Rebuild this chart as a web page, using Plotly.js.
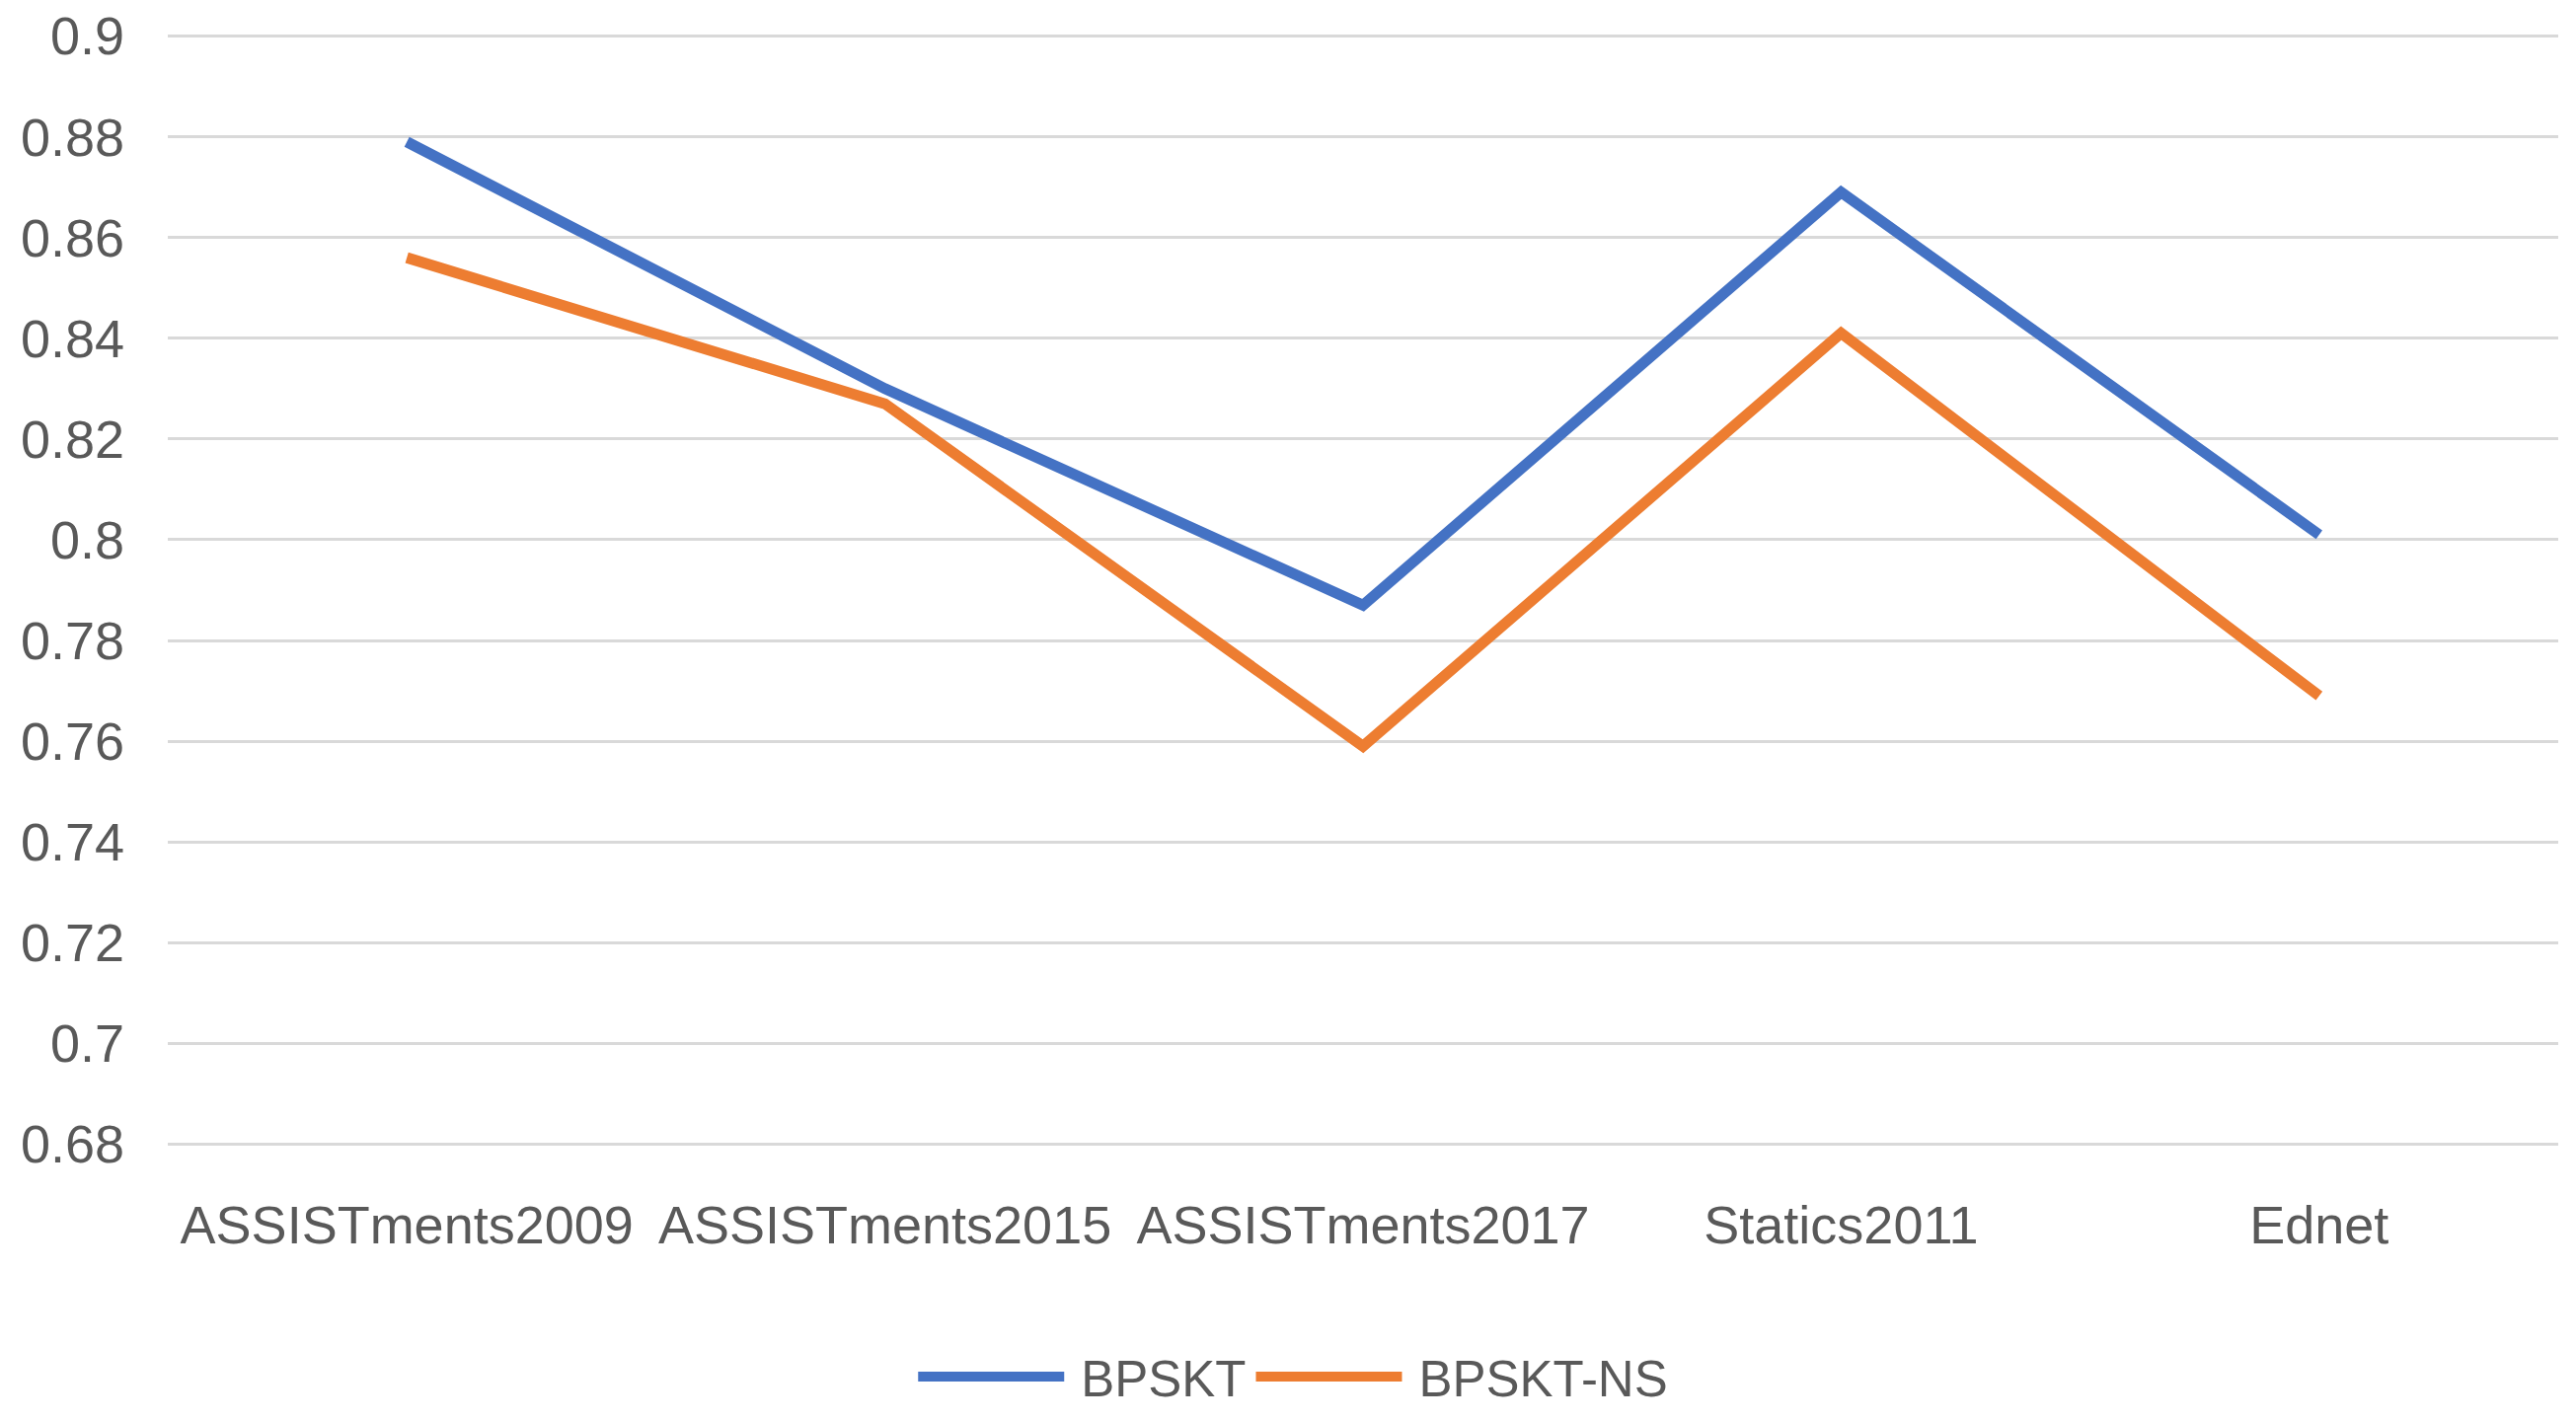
<!DOCTYPE html>
<html>
<head>
<meta charset="utf-8">
<script src="https://cdn.plot.ly/plotly-3.0.1.min.js"></script>
<style>
  html, body { margin: 0; padding: 0; background: #ffffff; }
  #chart { width: 2610px; height: 1440px; }
</style>
</head>
<body>
<div id="chart"></div>
<script>
// ---- data ----
const categories = ["ASSISTments2009", "ASSISTments2015", "ASSISTments2017", "Statics2011", "Ednet"];
const seriesNames = ["BPSKT", "BPSKT-NS"];
const bpskt   = [0.879, 0.830, 0.787, 0.869, 0.801];
const bpsktNS = [0.856, 0.827, 0.759, 0.841, 0.769];
const yTickVals = [0.68, 0.70, 0.72, 0.74, 0.76, 0.78, 0.80, 0.82, 0.84, 0.86, 0.88, 0.90];
const yTickText = ["0.68", "0.7", "0.72", "0.74", "0.76", "0.78", "0.8", "0.82", "0.84", "0.86", "0.88", "0.9"];

// ---- style ----
const W = 2610, H = 1440;
const FONT = "Liberation Sans, Arial, sans-serif";
const TXT = "#595959";
const xIdx = categories.map((_, i) => i);

const traces = [
  { x: xIdx, y: bpskt, name: seriesNames[0], type: "scatter", mode: "lines",
    line: { color: "#4472C4", width: 11 }, cliponaxis: false },
  { x: xIdx, y: bpsktNS, name: seriesNames[1], type: "scatter", mode: "lines",
    line: { color: "#ED7D31", width: 11 }, cliponaxis: false }
];

const layout = {
  width: W, height: H,
  paper_bgcolor: "#ffffff", plot_bgcolor: "#ffffff",
  margin: { l: 170, r: 18, t: 34, b: 278, pad: 0 },
  font: { family: FONT, size: 54, color: TXT },
  showlegend: true,
  legend: {
    orientation: "h", xref: "container", x: 0.3545, xanchor: "left",
    yref: "container", y: 0.031, yanchor: "middle",
    font: { family: FONT, size: 51, color: TXT }, itemwidth: 160,
    bgcolor: "rgba(0,0,0,0)", traceorder: "normal", itemclick: false
  },
  xaxis: {
    range: [-0.5, 4.5], tickmode: "array", tickvals: xIdx, ticktext: categories,
    showgrid: false, zeroline: false, showline: false, ticks: "",
    ticklabelstandoff: 43,
    tickfont: { family: FONT, size: 54, color: TXT }, fixedrange: true
  },
  yaxis: {
    range: [0.6795, 0.9005], tickmode: "array", tickvals: yTickVals, ticktext: yTickText,
    showgrid: true, gridcolor: "#D9D9D9", gridwidth: 3,
    zeroline: false, showline: false, ticks: "",
    ticklabelstandoff: 43,
    tickfont: { family: FONT, size: 54, color: TXT }, fixedrange: true
  }
};

Plotly.newPlot("chart", traces, layout, { staticPlot: true, displayModeBar: false }).then(gd => {
  // lengthen legend line samples to match reference style
  document.querySelectorAll(".legend .legendlines path").forEach(p => {
    p.setAttribute("d", "M5,0h148");
    p.style.strokeWidth = "10px";
  });
});
</script>
</body>
</html>
